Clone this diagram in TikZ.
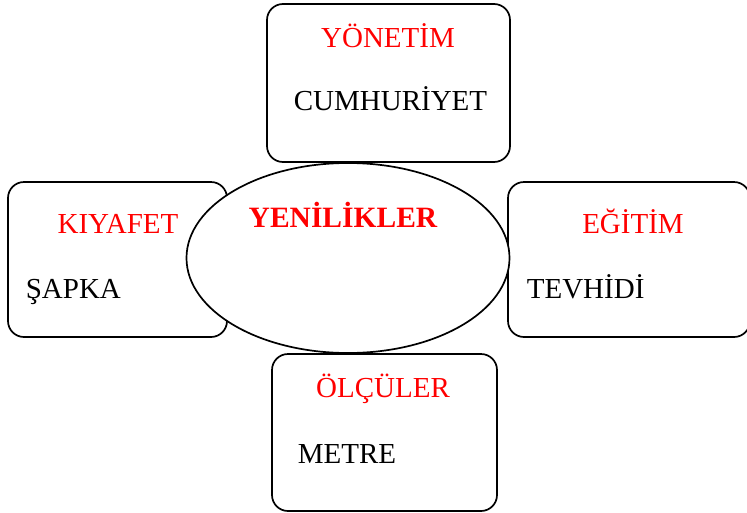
\documentclass[tikz,border=0pt]{standalone}
\usepackage{fontspec}
\setmainfont{Liberation Serif}
\usetikzlibrary{shapes.geometric}
\begin{document}
\begin{tikzpicture}[x=1pt,y=-1pt,line width=1.7pt]
        \useasboundingbox (0,0) rectangle (747,512);

        \begin{scope}[every node/.style={draw, rounded corners=16pt, fill=white}]
          \node[minimum width=243pt, minimum height=158pt] (yonetim) at (388.5,83)  {};
          \node[minimum width=219pt, minimum height=155pt] (kiyafet) at (117.5,259.5) {};
          \node[minimum width=242pt, minimum height=155pt] (egitim)  at (629,259.5) {};
          \node[minimum width=225pt, minimum height=157pt] (olculer) at (384.5,432.5) {};
        \end{scope}

        \node[draw, ellipse, fill=white, minimum width=323pt, minimum height=190pt] (yenilik) at (348,258) {};

        \begin{scope}[every node/.style={inner sep=0pt, font=\fontsize{29}{33}\selectfont}]
          \begin{scope}[every node/.append style={anchor=base, text=red}]
            \node (t1) at (388,47)  {YÖNETİM};
            \node (t2) at (118,233) {KIYAFET};
            \node (t3) at (633,233) {EĞİTİM};
            \node (t4) at (383,397) {ÖLÇÜLER};
            \node[font=\fontsize{29.5}{33}\selectfont\bfseries] (t0) at (343,227) {YENİLİKLER};
          \end{scope}

          \begin{scope}[every node/.append style={anchor=base west}]
            \node (i1) at (293,110) {CUMHURİYET};
            \node (i2) at (25,298)  {ŞAPKA};
            \node (i3) at (526,298) {TEVHİDİ};
            \node (i4) at (297,463) {METRE};
          \end{scope}
        \end{scope}

      \end{tikzpicture}
\end{document}
